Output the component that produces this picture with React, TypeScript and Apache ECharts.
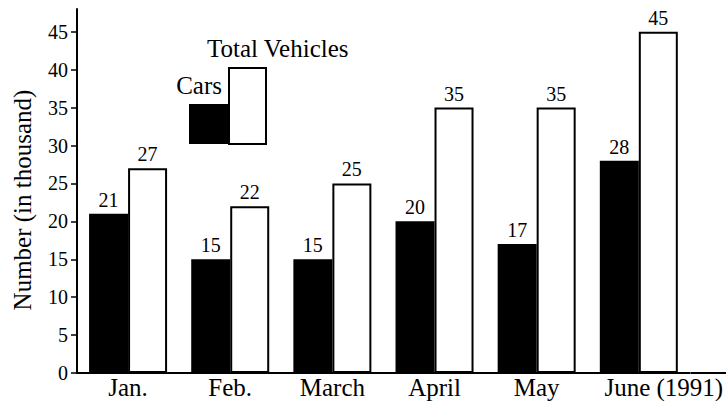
import React, { useEffect, useRef } from "react";
import * as echarts from "echarts";

const categories = ["Jan.", "Feb.", "March", "April", "May", "June (1991)"];
const cars = [21, 15, 15, 20, 17, 28];
const totalVehicles = [27, 22, 25, 35, 35, 45];
const yTicks = [0, 5, 10, 15, 20, 25, 30, 35, 40, 45];
const yAxisName = "Number (in thousand)";
const legendCars = "Cars";
const legendTotal = "Total Vehicles";

const FONT = "Liberation Serif, Times New Roman, serif";

export default function App() {
  const ref = useRef<HTMLDivElement>(null);

  useEffect(() => {
    document.body.style.margin = "0";
    const chart = echarts.init(ref.current!, null, { renderer: "svg" });
    const txt = (size: number) => ({ fontFamily: FONT, fontSize: size, fill: "#000" });
    const xData = categories.map((c, i) =>
      i === categories.length - 1 ? { value: c, textStyle: { padding: [0, 0, 0, 50] } } : c
    );
    const option: any = {
      animation: false,
      backgroundColor: "#ffffff",
      textStyle: { fontFamily: FONT, color: "#000" },
      grid: { left: 77, top: 9, width: 615, height: 364, containLabel: false },
      xAxis: {
        type: "category",
        data: xData,
        axisLine: { show: true, lineStyle: { color: "#000", width: 2 } },
        axisTick: { show: false },
        axisLabel: { color: "#000", fontFamily: FONT, fontSize: 25, margin: 2, interval: 0 },
        splitLine: { show: false },
      },
      yAxis: {
        type: "value",
        min: 0,
        max: 48,
        interval: 5,
        axisLine: { show: true, lineStyle: { color: "#000", width: 2 } },
        axisTick: { show: true, length: 6, lineStyle: { color: "#000", width: 1.5 }, customValues: yTicks },
        axisLabel: { color: "#000", fontFamily: FONT, fontSize: 20, margin: 9, customValues: yTicks },
        splitLine: { show: false },
      },
      series: [
        {
          name: legendCars,
          type: "bar",
          data: cars,
          barWidth: 39,
          barGap: "0%",
          itemStyle: { color: "#000" },
          label: { show: true, position: "top", distance: 4, color: "#000", fontFamily: FONT, fontSize: 20 },
        },
        {
          name: legendTotal,
          type: "bar",
          data: totalVehicles,
          barWidth: 39,
          barGap: "0%",
          itemStyle: { color: "#fff", borderColor: "#000", borderWidth: 2 },
          label: { show: true, position: "top", distance: 4, color: "#000", fontFamily: FONT, fontSize: 20 },
        },
      ],
      graphic: [
        {
          type: "line",
          shape: { x1: 691, y1: 373, x2: 726, y2: 373 },
          style: { stroke: "#000", lineWidth: 2 },
        },
        {
          type: "text",
          x: 22,
          y: 200,
          rotation: Math.PI / 2,
          style: { text: yAxisName, ...txt(25), align: "center", verticalAlign: "middle" },
        },
        {
          type: "rect",
          shape: { x: 189, y: 104, width: 39, height: 40 },
          style: { fill: "#000" },
        },
        {
          type: "rect",
          shape: { x: 229, y: 68, width: 37, height: 76 },
          style: { fill: "#fff", stroke: "#000", lineWidth: 2 },
        },
        {
          type: "text",
          x: 222,
          y: 85,
          style: { text: legendCars, ...txt(25), align: "right", verticalAlign: "middle" },
        },
        {
          type: "text",
          x: 207,
          y: 48,
          style: { text: legendTotal, ...txt(25), align: "left", verticalAlign: "middle" },
        },
      ],
    };
    chart.setOption(option);
    return () => chart.dispose();
  }, []);

  return <div ref={ref} style={{ width: 726, height: 401 }} />;
}
